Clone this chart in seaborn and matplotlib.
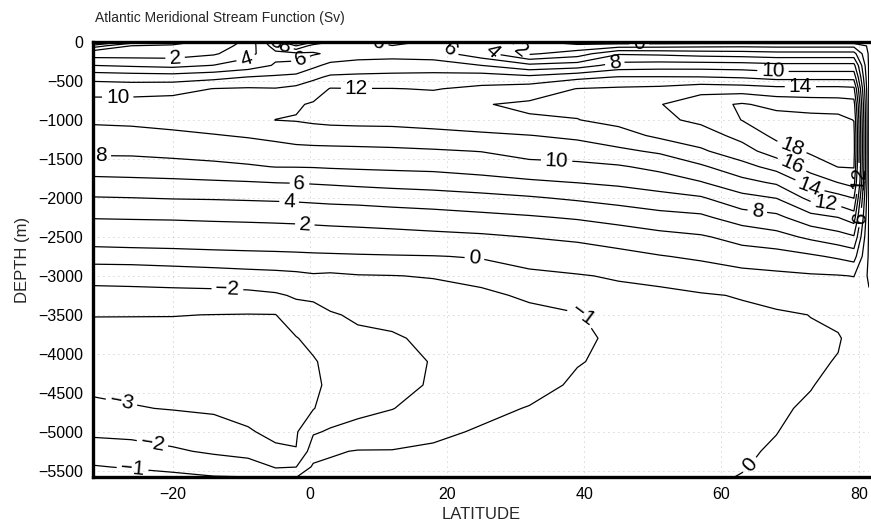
import numpy as np
import matplotlib
matplotlib.use("Agg")
import matplotlib.pyplot as plt
import seaborn as sns

# ---------------- data ----------------
LATS = [-31.6, -26, -20, -14, -9, -5, -2, 0.5, 3, 7, 12, 18, 25, 32, 39,
        45, 51, 57, 63, 68, 73, 77, 79.3, 81.5]
DEPTHS = [0, -50, -150, -300, -450, -600, -800, -1000, -1200, -1400, -1600,
          -1800, -2000, -2250, -2500, -2750, -3000, -3250, -3500, -3800,
          -4100, -4400, -4700, -5000, -5250, -5450, -5600]

# one profile (values at DEPTHS, Sv) per latitude in LATS
PSI = [
    [-4.0, -1.5, 1.0, 4.0, 7.3, 9.2, 10.7, 10.3, 9.3, 8.4, 7.0, 5.4, 3.9, 2.1, 0.6, -0.6, -1.6, -2.4, -2.98, -3.2, -3.4, -3.2, -2.8, -2.2, -1.5, -0.94, -0.5],
    [-1.5, 0.05, 1.05, 3.7, 7.1, 9.1, 10.8, 10.4, 9.4, 8.4, 7.1, 5.5, 3.98, 2.15, 0.7, -0.57, -1.58, -2.35, -2.98, -3.22, -3.45, -3.22, -2.95, -2.26, -1.62, -1.08, -0.6],
    [-0.5, 0.18, 1.1, 3.4, 7.0, 9.3, 10.9, 10.7, 9.6, 8.6, 7.3, 5.6, 4.1, 2.2, 0.74, -0.5, -1.5, -2.32, -2.98, -3.25, -3.5, -3.27, -3.04, -2.46, -1.86, -1.17, -0.8],
    [0.5, 0.92, 1.75, 4.05, 7.4, 10.05, 11.07, 11.0, 9.9, 8.8, 7.55, 5.76, 4.16, 2.3, 0.83, -0.42, -1.42, -2.3, -3.01, -3.24, -3.46, -3.32, -3.11, -2.68, -2.15, -1.38, -0.9],
    [2.5, 2.8, 3.37, 4.9, 8.05, 10.2, 11.27, 11.25, 10.16, 9.03, 7.8, 5.9, 4.25, 2.37, 0.89, -0.36, -1.33, -2.26, -3.03, -3.23, -3.43, -3.37, -3.18, -2.95, -2.33, -1.59, -0.9],
    [8.0, 7.0, 5.5, 6.2, 8.3, 10.1, 11.5, 12.02, 10.5, 9.2, 8.05, 6.05, 4.33, 2.44, 0.94, -0.32, -1.27, -2.12, -3.02, -3.2, -3.38, -3.47, -3.3, -3.13, -2.9, -2.05, -1.5],
    [14.0, 10.0, 5.5, 6.3, 8.6, 10.5, 11.8, 12.1, 10.95, 9.3, 8.06, 6.1, 4.4, 2.5, 1.0, -0.28, -1.2, -1.9, -2.4, -3.05, -3.25, -3.3, -3.2, -3.1, -2.97, -2.02, -0.9],
    [10.0, 7.0, 5.8, 7.5, 9.6, 11.0, 12.2, 12.3, 11.05, 9.4, 8.1, 6.2, 4.5, 2.6, 1.05, -0.23, -1.1, -1.85, -2.3, -2.7, -3.1, -3.2, -3.05, -2.1, -1.5, -0.85, -0.6],
    [8.0, 6.8, 6.3, 8.6, 10.3, 12.1, 12.5, 12.45, 11.1, 9.45, 8.2, 6.3, 4.6, 2.7, 1.1, -0.2, -1.15, -1.55, -2.1, -2.45, -2.7, -2.8, -2.5, -1.9, -1.1, -0.85, -0.75],
    [6.5, 6.3, 7.0, 8.9, 10.4, 12.05, 12.6, 12.5, 11.2, 9.5, 8.3, 6.5, 4.7, 2.8, 1.2, -0.15, -1.05, -1.45, -1.85, -2.2, -2.45, -2.5, -2.2, -1.75, -0.95, -0.8, -0.75],
    [5.5, 6.05, 7.2, 9.0, 10.5, 12.05, 12.7, 12.5, 11.3, 9.6, 8.4, 6.7, 4.9, 3.0, 1.3, -0.1, -1.02, -1.4, -1.8, -2.08, -2.3, -2.3, -2.02, -1.6, -0.95, -0.8, -0.75],
    [6.3, 6.6, 6.9, 9.0, 10.6, 11.9, 12.9, 12.8, 11.4, 9.8, 8.5, 6.9, 5.1, 3.2, 1.5, -0.05, -0.95, -1.3, -1.6, -1.85, -1.95, -1.9, -1.7, -1.2, -0.85, -0.8, -0.75],
    [4.5, 4.5, 4.8, 8.0, 11.0, 12.4, 13.9, 13.4, 11.6, 10.05, 8.8, 7.3, 5.4, 3.5, 1.7, 0.1, -0.7, -1.2, -1.45, -1.65, -1.7, -1.55, -1.25, -0.9, -0.8, -0.75, -0.7],
    [0.5, 1.0, 1.7, 6.5, 10.5, 13.0, 14.3, 13.8, 11.95, 10.8, 9.3, 7.7, 5.8, 3.8, 2.05, 0.55, -0.3, -0.85, -1.25, -1.5, -1.5, -1.35, -0.95, -0.8, -0.7, -0.65, -0.6],
    [-1.0, 0.6, 3.0, 7.0, 11.5, 14.05, 14.5, 13.95, 12.4, 11.0, 9.5, 8.05, 6.3, 4.2, 2.4, 0.95, -0.1, -0.6, -1.05, -1.2, -1.05, -0.85, -0.7, -0.65, -0.6, -0.55, -0.5],
    [-1.0, 1.2, 5.8, 8.8, 12.1, 14.3, 15.0, 14.6, 13.2, 11.6, 9.8, 8.4, 6.8, 4.7, 2.9, 1.4, 0.15, -0.4, -0.65, -0.8, -0.8, -0.7, -0.6, -0.55, -0.5, -0.45, -0.4],
    [-1.0, 1.3, 5.6, 9.0, 12.1, 14.5, 15.9, 15.6, 14.4, 12.3, 10.5, 9.0, 7.3, 5.3, 3.4, 1.9, 0.25, -0.2, -0.5, -0.6, -0.6, -0.55, -0.5, -0.45, -0.4, -0.35, -0.3],
    [-1.0, 1.5, 5.2, 9.0, 12.05, 15.2, 17.3, 16.4, 15.1, 13.7, 11.7, 9.9, 7.8, 5.6, 3.8, 2.3, 1.0, -0.15, -0.4, -0.5, -0.5, -0.45, -0.4, -0.35, -0.3, -0.2, -0.15],
    [-1.0, 1.6, 5.0, 8.9, 11.8, 15.0, 18.2, 18.05, 16.6, 15.2, 13.3, 11.4, 9.4, 7.0, 4.6, 3.2, 1.2, 0.1, -0.3, -0.4, -0.4, -0.35, -0.3, -0.2, -0.12, -0.05, 0.05],
    [-1.0, 1.5, 4.7, 8.6, 11.3, 14.6, 17.4, 18.9, 18.5, 17.0, 14.7, 12.3, 10.05, 7.5, 5.3, 3.2, 1.6, 0.5, -0.2, -0.3, -0.3, -0.25, -0.15, -0.02, 0.1, 0.2, 0.25],
    [-1.0, 1.5, 4.7, 8.6, 11.3, 14.6, 17.1, 18.7, 19.2, 18.3, 16.9, 14.7, 12.6, 9.3, 6.4, 3.7, 1.8, 0.9, 0.02, -0.15, -0.15, -0.05, 0.15, 0.3, 0.4, 0.45, 0.45],
    [-1.0, 1.5, 4.7, 8.6, 11.3, 14.6, 17.0, 18.6, 19.2, 18.8, 18.05, 16.05, 13.3, 10.0, 7.2, 4.3, 1.9, 1.1, 0.25, -0.08, 0.05, 0.3, 0.5, 0.6, 0.65, 0.65, 0.65],
    [-1.0, 1.5, 4.7, 8.6, 11.3, 14.4, 16.8, 17.95, 18.5, 18.6, 18.1, 16.8, 14.05, 11.0, 7.8, 4.8, 2.05, 1.0, 0.5, 0.3, 0.4, 0.6, 0.7, 0.75, 0.75, 0.75, 0.75],
    [-0.3, -0.3, -0.3, -0.3, -0.3, -0.3, -0.3, -0.3, -0.3, -0.3, -0.3, -0.3, -0.3, -0.3, -0.3, -0.3, -0.3, 0.2, 0.2, 0.2, 0.2, 0.2, 0.2, 0.2, 0.2, 0.2, 0.2],
]

LEVELS = [-3, -2, -1, 0] + list(range(2, 42, 2))
X_TICKS = [-20, 0, 20, 40, 60, 80]
Y_TICKS = list(range(-5500, 1, 500))
TITLE = "Atlantic Meridional Stream Function (Sv)"
XLABEL = "LATITUDE"
YLABEL = "DEPTH (m)"

# approximate spots where the reference writes its contour labels
LABEL_SPOTS = [
    (-28, -700), (-19.6, -245), (-9.2, -257), (-1.2, -257), (6.8, -565),
    (-30.4, -1480), (-1.5, -1800), (-3, -2000), (-0.7, -2300), (24, -2770),
    (-12, -3150), (40.3, -3460), (-27.6, -4690), (-23, -5180), (-25.8, -5440),
    (63.6, -5390), (36, -1470), (44.4, -245), (67.5, -380), (71.5, -565),
    (70.3, -1340), (70.3, -1570), (72.8, -1860), (75.3, -2040), (65.2, -2190),
    (10.0, -35), (20.3, -115), (26.4, -130), (30.6, -130), (48, -25),
    (79.9, -1750), (80.1, -2250), (-5.3, -25), (-3.9, -40),
]

# ---------------- drawing ----------------
sns.set_theme(style="white")
plt.rcParams["font.family"] = ["Liberation Sans", "DejaVu Sans"]
plt.rcParams["axes.unicode_minus"] = True
plt.rcParams["contour.negative_linestyle"] = "solid"

fig = plt.figure(figsize=(8.71, 5.29), dpi=100)
W, H = 871, 529
ax = fig.add_axes([93 / W, 1 - 477 / H, (869 - 93) / W, (477 - 42) / H])

Z = np.array(PSI).T
cs = ax.contour(LATS, DEPTHS, Z, levels=LEVELS, colors="black",
                linewidths=0.9, linestyles="solid")


def fmt(v):
    return f"{v:.0f}".replace("-", "\u2212")


ax.clabel(cs, manual=LABEL_SPOTS, fmt=fmt, fontsize=15, inline=True,
          inline_spacing=4)

ax.set_xlim(-31.6, 81.5)
ax.set_ylim(-5580, 0)
ax.set_xticks(X_TICKS)
ax.set_yticks(Y_TICKS)
ax.set_xticklabels([fmt(v) for v in X_TICKS])
ax.set_yticklabels([fmt(v) for v in Y_TICKS])
ax.tick_params(direction="in", length=3, width=0.8, labelsize=11.5,
               pad=7, colors="black")
ax.grid(True, linestyle=(0, (1, 5)), color="#b0b0b0", linewidth=0.6)
for side in ["left", "bottom", "top"]:
    ax.spines[side].set_linewidth(2.4)
    ax.spines[side].set_color("black")
ax.spines["right"].set_visible(False)

ax.set_xlabel(XLABEL, fontsize=12, labelpad=4)
ax.set_ylabel(YLABEL, fontsize=12, labelpad=6)
fig.text(95 / W, 1 - 18 / H, TITLE, fontsize=10, ha="left", va="center")

fig.savefig("out.png", dpi=100)
